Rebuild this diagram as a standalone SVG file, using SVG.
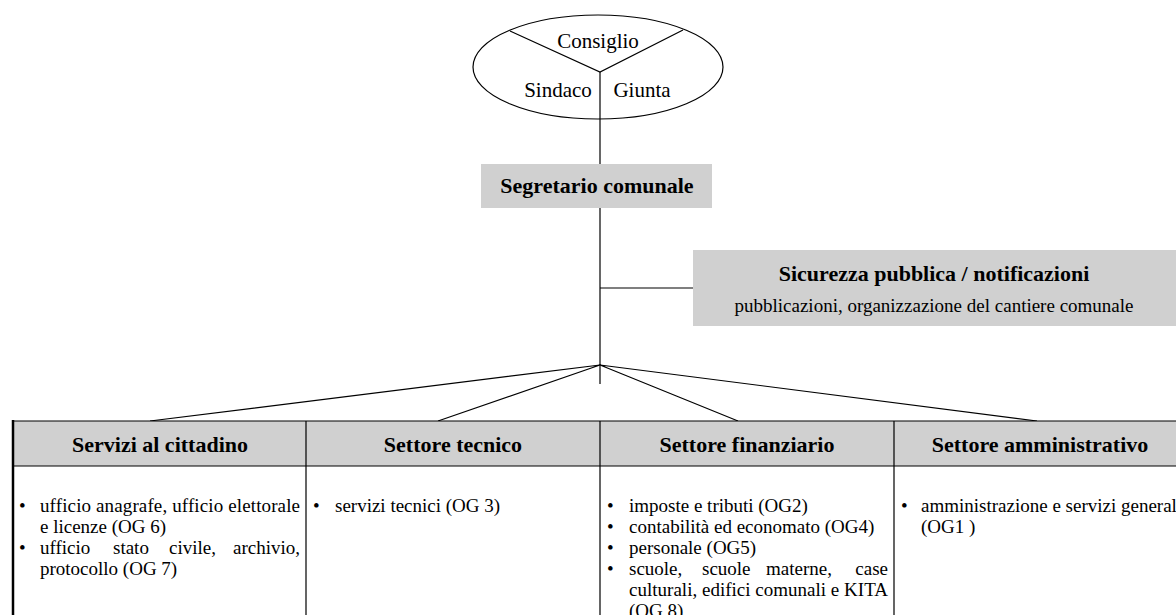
<svg xmlns="http://www.w3.org/2000/svg" width="1176" height="615" viewBox="0 0 1176 615">
<style>
.t{font-size:21px}
.b{font-size:22px;font-weight:bold}
.s{font-size:19px}
.box{fill:#d0d0d0}
.ln{stroke:#000;stroke-width:1.2;fill:none}
</style>
<rect width="1176" height="615" fill="#fff"/>
<g id="connectors" class="ln">
<path d="M600,72 V384"/>
<path d="M600,288 H693"/>
<path d="M600,365 L150,421 M600,365 L438,421 M600,365 L738,421 M600,365 L1037,421"/>
</g>
<g font-family="Liberation Serif, DejaVu Serif, serif" fill="#000">
<g id="council">
<ellipse cx="598" cy="67" rx="125" ry="52" class="ln"/>
<path d="M510,31 L600,72 L683,30" class="ln"/>
<text class="t" x="598" y="48" text-anchor="middle">Consiglio</text>
<text class="t" x="558" y="97" text-anchor="middle">Sindaco</text>
<text class="t" x="642" y="97" text-anchor="middle">Giunta</text>
</g>
<g id="segretario">
<rect class="box" x="481" y="164" width="231" height="44"/>
<text class="b" x="597" y="193" text-anchor="middle">Segretario comunale</text>
</g>
<g id="sicurezza">
<rect class="box" x="693" y="250" width="490" height="76"/>
<text class="b" x="934" y="281" text-anchor="middle">Sicurezza pubblica / notificazioni</text>
<text class="s" x="934" y="312" text-anchor="middle">pubblicazioni, organizzazione del cantiere comunale</text>
</g>
<g id="table">
<rect class="box" x="13" y="421" width="1180" height="45"/>
<path class="ln" d="M13,421 H1190 M13,466 H1190 M306,421 V615 M600,421 V615 M894,421 V615"/>
<path d="M13,420 V615" stroke="#000" stroke-width="2.5"/>
</g>
<g id="servizi-cittadino">
<text class="b" x="160" y="452" text-anchor="middle">Servizi al cittadino</text>
<text class="s" x="19" y="512">•</text>
<text class="s" x="40" y="512" textLength="260" lengthAdjust="spacing">ufficio anagrafe, ufficio elettorale</text>
<text class="s" x="40" y="533">e licenze (OG 6)</text>
<text class="s" x="19" y="554">•</text>
<text class="s" x="40" y="554">ufficio</text>
<text class="s" x="113" y="554">stato</text>
<text class="s" x="169" y="554">civile,</text>
<text class="s" x="300" y="554" text-anchor="end">archivio,</text>
<text class="s" x="40" y="575">protocollo (OG 7)</text>
</g>
<g id="settore-tecnico">
<text class="b" x="453" y="452" text-anchor="middle">Settore tecnico</text>
<text class="s" x="313" y="512">•</text>
<text class="s" x="335" y="512">servizi tecnici (OG 3)</text>
</g>
<g id="settore-finanziario">
<text class="b" x="747" y="452" text-anchor="middle">Settore finanziario</text>
<text class="s" x="607" y="512">•</text>
<text class="s" x="629" y="512">imposte e tributi (OG2)</text>
<text class="s" x="607" y="533">•</text>
<text class="s" x="629" y="533">contabilità ed economato (OG4)</text>
<text class="s" x="607" y="554">•</text>
<text class="s" x="629" y="554">personale (OG5)</text>
<text class="s" x="607" y="575">•</text>
<text class="s" x="629" y="575">scuole,</text>
<text class="s" x="702" y="575">scuole</text>
<text class="s" x="766" y="575">materne,</text>
<text class="s" x="888" y="575" text-anchor="end">case</text>
<text class="s" x="629" y="596" textLength="259" lengthAdjust="spacing">culturali, edifici comunali e KITA</text>
<text class="s" x="629" y="617">(OG 8)</text>
</g>
<g id="settore-amministrativo">
<text class="b" x="1040" y="452" text-anchor="middle">Settore amministrativo</text>
<text class="s" x="901" y="512">•</text>
<text class="s" x="921" y="512">amministrazione e servizi generali</text>
<text class="s" x="921" y="533">(OG1 )</text>
</g>
</g>
</svg>
